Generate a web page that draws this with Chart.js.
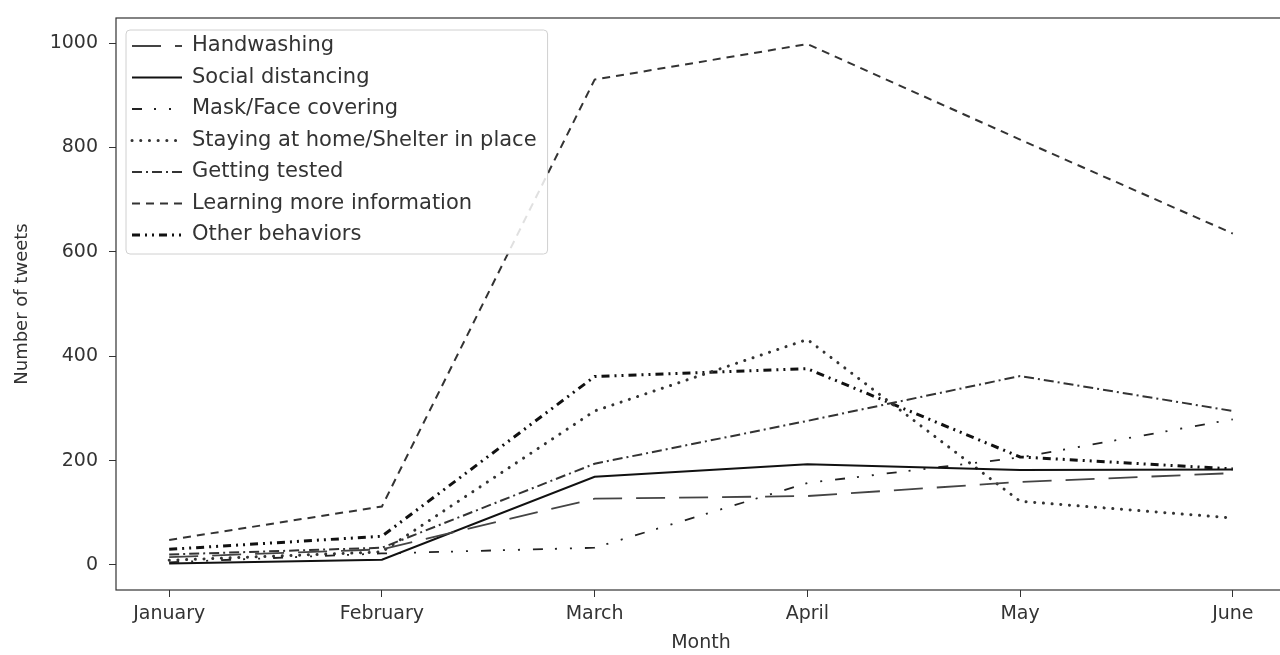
<!DOCTYPE html>
<html>
<head>
<meta charset="utf-8">
<script src="https://cdn.jsdelivr.net/npm/chart.js@4.4.1/dist/chart.umd.min.js"></script>
<style>
html, body { margin: 0; padding: 0; background: #fff; overflow: hidden; }
#wrap { width: 1290px; height: 655px; }
</style>
</head>
<body>
<div id="wrap"><canvas id="chart" width="1290" height="655"></canvas></div>
<script>
// months on the x axis
const months = ['January', 'February', 'March', 'April', 'May', 'June'];
const yTicks = [0, 200, 400, 600, 800, 1000];

// tweets per month
const handwashing      = [15, 30, 127, 132, 159, 176];
const socialDistancing = [3, 10, 169, 193, 182, 183];
const maskCovering     = [5, 22, 33, 157, 206, 279];
const stayingAtHome    = [9, 25, 295, 432, 122, 90];
const gettingTested    = [20, 33, 194, 276, 362, 295];
const learningMore     = [48, 112, 930, 998, 815, 635];
const otherBehaviors   = [30, 55, 361, 376, 207, 184];

const toPoints = arr => arr.map((v, i) => ({ x: i, y: v }));

const series = [
    { label: 'Handwashing', data: handwashing, color: '#444', width: 1.8, dash: [29, 14], cap: 'butt' },
    { label: 'Social distancing', data: socialDistancing, color: '#111', width: 2, dash: [], cap: 'butt' },
    { label: 'Mask/Face covering', data: maskCovering, color: '#222', width: 1.8, dash: [10, 12, 2, 13, 2, 13], cap: 'butt' },
    { label: 'Staying at home/Shelter in place', data: stayingAtHome, color: '#333', width: 3, dash: [0.1, 8.6], cap: 'round' },
    { label: 'Getting tested', data: gettingTested, color: '#333', width: 2, dash: [10, 4, 2, 4], cap: 'butt' },
    { label: 'Learning more information', data: learningMore, color: '#333', width: 2, dash: [8, 6], cap: 'butt' },
    { label: 'Other behaviors', data: otherBehaviors, color: '#111', width: 3, dash: [8, 5, 2, 5, 2, 5], cap: 'butt' }
];

const FONT = 'DejaVu Sans';
const TEXT = '#333';

// spines on all four sides + matplotlib-like legend box on top of the lines
const framePlugin = {
    id: 'frame',
    afterDraw(chart) {
        const { ctx, chartArea: a } = chart;
        ctx.save();
        ctx.strokeStyle = '#333';
        ctx.lineWidth = 1.2;
        ctx.setLineDash([]);
        ctx.strokeRect(a.left, a.top, a.right - a.left, a.bottom - a.top);

        // legend
        const x0 = a.left + 10, y0 = a.top + 12;
        const rowH = 31.5, handleLen = 50;
        ctx.font = '21px "' + FONT + '"';
        let maxW = 0;
        chart.data.datasets.forEach(ds => { maxW = Math.max(maxW, ctx.measureText(ds.label).width); });
        const textX = x0 + 6 + handleLen + 10;
        const w = textX + maxW + 11 - x0;
        const h = 16 + rowH * (chart.data.datasets.length - 1) + 19;
        ctx.beginPath();
        ctx.roundRect(x0, y0, w, h, 4);
        ctx.fillStyle = 'rgba(255,255,255,0.85)';
        ctx.fill();
        ctx.strokeStyle = '#d0d0d0';
        ctx.lineWidth = 1;
        ctx.stroke();

        chart.data.datasets.forEach((ds, i) => {
            const y = y0 + 16 + i * rowH;
            ctx.beginPath();
            ctx.setLineDash(ds.borderDash);
            ctx.lineCap = ds.borderCapStyle;
            ctx.lineWidth = ds.borderWidth;
            ctx.strokeStyle = ds.borderColor;
            ctx.moveTo(x0 + 6, y);
            ctx.lineTo(x0 + 6 + handleLen, y);
            ctx.stroke();
            ctx.setLineDash([]);
            ctx.fillStyle = TEXT;
            ctx.textBaseline = 'middle';
            ctx.textAlign = 'left';
            ctx.fillText(ds.label, textX, y);
        });
        ctx.restore();
    }
};

new Chart(document.getElementById('chart'), {
    type: 'line',
    data: {
        datasets: series.map(s => ({
            label: s.label,
            data: toPoints(s.data),
            borderColor: s.color,
            borderWidth: s.width,
            borderDash: s.dash,
            borderCapStyle: s.cap,
            fill: false,
            tension: 0,
            pointRadius: 0
        }))
    },
    options: {
        responsive: false,
        animation: false,
        devicePixelRatio: 1,
        layout: { padding: { top: 18, right: 4, left: 0, bottom: 0 } },
        plugins: {
            legend: { display: false },
            tooltip: { enabled: false }
        },
        scales: {
            x: {
                type: 'linear',
                min: -0.25,
                max: 5.25,
                afterFit: s => { s.height = 65; s.paddingLeft = 0; s.paddingRight = 0; },
                border: { display: false },
                grid: { drawOnChartArea: false, tickLength: 7, tickColor: '#333', tickWidth: 1 },
                ticks: {
                    stepSize: 1,
                    includeBounds: false,
                    autoSkip: false,
                    maxRotation: 0,
                    padding: 6,
                    color: TEXT,
                    font: { family: FONT, size: 19 },
                    callback: v => months[v] !== undefined ? months[v] : ''
                },
                title: { display: true, text: 'Month', color: TEXT, font: { family: FONT, size: 19 }, padding: { top: 0, bottom: 1 } }
            },
            y: {
                min: -48,
                max: 1048,
                afterFit: s => { s.width = 116; s.paddingTop = 0; s.paddingBottom = 0; },
                afterBuildTicks: s => { s.ticks = yTicks.map(v => ({ value: v })); },
                border: { display: false },
                grid: { drawOnChartArea: false, tickLength: 7, tickColor: '#333', tickWidth: 1 },
                ticks: {
                    padding: 11,
                    color: TEXT,
                    font: { family: FONT, size: 19 },
                    callback: v => String(v)
                },
                title: { display: true, text: 'Number of tweets', color: TEXT, font: { family: FONT, size: 18 }, padding: { top: 12 } }
            }
        }
    },
    plugins: [framePlugin]
});
</script>
</body>
</html>
